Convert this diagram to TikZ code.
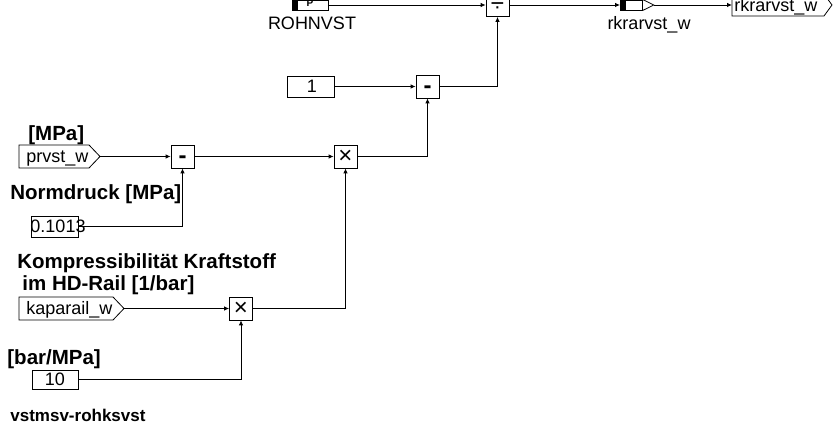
\documentclass[tikz,border=0pt]{standalone}
\usepackage{fontspec}
\setmainfont{Liberation Sans}
\usetikzlibrary{arrows.meta}
\begin{document}
\begin{tikzpicture}[x=1pt,y=-1pt,line width=0.8pt,
  wire/.style={draw,-{Latex[length=5pt,width=4.5pt]}},
  opbox/.style={draw,rectangle,minimum width=23pt,minimum height=23pt,inner sep=0pt,font=\fontsize{24}{24}\selectfont,text height=14pt,text depth=0pt},
  valbox/.style={draw,rectangle,inner sep=0pt},
  txt/.style={inner sep=0pt,font=\fontsize{18}{20}\selectfont,text height=12.9pt,text depth=0pt},
  btxt/.style={inner sep=0pt,font=\fontsize{20.5}{23}\selectfont\bfseries,text height=14.7pt,text depth=0pt},
  ftxt/.style={inner sep=0pt,font=\fontsize{17}{19}\selectfont\bfseries,text height=12.2pt,text depth=0pt}]
\useasboundingbox (0,0) rectangle (833,427);
\clip (0,0) rectangle (833,427);
% ROHNVST parameter block
\node[valbox,minimum width=36pt,minimum height=10pt,anchor=west] (rohn) at (292,5) {};
\fill (rohn.north west) rectangle ([xshift=6pt]rohn.south west);
\node[inner sep=0pt,font=\fontsize{10}{10}\selectfont\bfseries,anchor=base] (rohnp) at (310,7) {P};
\node[txt] (rohnlbl) at (312,23) {ROHNVST};
% division
\node[opbox] (div) at (497.5,5) {÷};
% output message block
\node[valbox,minimum width=22pt,minimum height=10pt,anchor=west] (outb) at (620,5) {};
\fill (outb.north west) rectangle ([xshift=6pt]outb.south west);
\draw (outb.north east) -- ([xshift=11pt]outb.east) coordinate (outtip) -- (outb.south east);
\node[txt] (outlbl) at (649,23) {rkrarvst\_w};
% output port
\draw (732,-6) -- (824,-6) -- (832,5) -- (824,16) -- (732,16) -- cycle;
\coordinate (outport) at (732,5);
\node[txt,anchor=west] (outporttxt) at (734,5) {rkrarvst\_w};
% constant 1 and subtraction
\node[valbox,minimum width=47pt,minimum height=21pt] (one) at (310.5,86.5) {};
\node[txt] (onetxt) at (312,86.5) {1};
\node[opbox] (sub2) at (427.5,86.5) {\textbf{-}};
% prvst_w
\node[btxt,anchor=west] (mpa1) at (28,133) {[MPa]};
\draw (19,145) -- (89,145) -- (100,156.5) -- (89,168) -- (19,168) -- cycle;
\coordinate (prvstout) at (100,156.5);
\node[txt,anchor=west] (prvst) at (26,156.5) {prvst\_w};
\node[opbox] (sub1) at (182.5,156.5) {\textbf{-}};
\node[opbox] (mul1) at (345.5,156.5) {×};
% Normdruck
\node[btxt,anchor=west] (normlbl) at (10,192) {Normdruck [MPa]};
\node[valbox,minimum width=47pt,minimum height=21pt] (norm) at (54.5,226.5) {};
\node[txt] (normtxt) at (58,226.5) {0.1013};
% kaparail_w
\node[btxt,anchor=west] (komp1) at (17,261) {Kompressibilität Kraftstoff};
\node[btxt,anchor=west] (komp2) at (22,283) {im HD-Rail [1/bar]};
\draw (19,297) -- (113,297) -- (124,308.5) -- (113,320) -- (19,320) -- cycle;
\coordinate (kapaout) at (124,308.5);
\node[txt,anchor=west] (kapa) at (26,308.5) {kaparail\_w};
\node[opbox] (mul2) at (241,308.5) {×};
% factor 10
\node[btxt,anchor=west] (barlbl) at (7,357) {[bar/MPa]};
\node[valbox,minimum width=46pt,minimum height=19pt] (ten) at (55,379.5) {};
\node[txt] (tentxt) at (55,379.5) {10};
% footer
\node[ftxt,anchor=west] (foot) at (10,415) {vstmsv-rohksvst};
% wires
\draw[wire] (rohn.east) -- (div.west);
\draw[wire] (div.east) -- (outb.west);
\draw[wire] (outtip) -- (outport);
\draw[wire] (one.east) -- (sub2.west);
\draw[wire] (sub2.east) -| (div.south);
\draw[wire] (prvstout) -- (sub1.west);
\draw[wire] (norm.east) -| (sub1.south);
\draw[wire] (sub1.east) -- (mul1.west);
\draw[wire] (mul1.east) -| (sub2.south);
\draw[wire] (kapaout) -- (mul2.west);
\draw[wire] (ten.east) -| (mul2.south);
\draw[wire] (mul2.east) -| (mul1.south);
\end{tikzpicture}
\end{document}
